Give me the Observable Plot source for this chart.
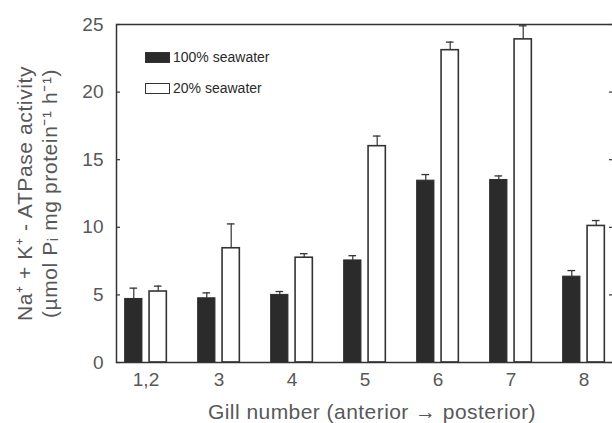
<!DOCTYPE html>
<html><head><meta charset="utf-8">
<script src="https://cdn.jsdelivr.net/npm/d3@7"></script>
<script src="https://cdn.jsdelivr.net/npm/@observablehq/plot@0.6"></script>
<style>
html,body{margin:0;padding:0;overflow:hidden;background:#fff;}
#wrap{position:relative;width:626px;height:423px;}
.legend{position:absolute;left:145px;top:52px;font:14px "Liberation Sans",Arial,sans-serif;color:#2a2a2a;}
.legend .row{display:flex;align-items:center;height:11px;line-height:11px;margin-bottom:20px;}
.legend .sw{width:25px;height:11px;box-sizing:border-box;border:1.3px solid #333;margin-right:3px;}
</style></head><body><div id="wrap"></div>
<script>
const groups = ["1,2", "3", "4", "5", "6", "7", "8"];
const sw100 = [4.7, 4.75, 5.0, 7.55, 13.45, 13.5, 6.35];
const sw100err = [0.8, 0.4, 0.25, 0.35, 0.45, 0.3, 0.45];
const sw20 = [5.25, 8.45, 7.75, 16.0, 23.1, 23.9, 10.1];
const sw20err = [0.4, 1.8, 0.3, 0.75, 0.6, 1.0, 0.4];
const yTicks = [0, 5, 10, 15, 20, 25];
const seriesNames = ["100% seawater", "20% seawater"];
const xTitle = "Gill number (anterior \u2192 posterior)";
const yTitle = "Na\u207A + K\u207A - ATPase activity\n(\u00B5mol P\u1D62 mg protein\u207B\u00B9 h\u207B\u00B9)";

const rows100 = groups.map((g, i) => ({group: g, value: sw100[i], err: sw100err[i]}));
const rows20 = groups.map((g, i) => ({group: g, value: sw20[i], err: sw20err[i]}));

const ink = "#333";
const txt = "#585858";

const plot = Plot.plot({
  width: 626, height: 423,
  marginLeft: 116, marginRight: 9, marginTop: 24, marginBottom: 61,
  style: {fontFamily: '"Liberation Sans", Arial, sans-serif', fontSize: "19px", background: "#fff", overflow: "visible"},
  x: {type: "band", domain: groups, range: [107.83, 621.17], padding: 0, label: null},
  y: {domain: [0, 25], label: null},
  marks: [
    Plot.barY(rows100, {x: "group", y: "value", fill: "#2b2b2b", stroke: "#2b2b2b", strokeWidth: 1, insetLeft: 15.67, insetRight: 40.07}),
    Plot.barY(rows20, {x: "group", y: "value", fill: "#fff", stroke: ink, strokeWidth: 1.6, insetLeft: 40.07, insetRight: 15.67}),
    Plot.ruleX(rows100, {x: "group", y1: "value", y2: d => d.value + d.err, dx: -12.2, stroke: ink, strokeWidth: 1.2}),
    Plot.tickY(rows100, {x: "group", y: d => d.value + d.err, insetLeft: 20.47, insetRight: 44.87, stroke: ink, strokeWidth: 1.3}),
    Plot.ruleX(rows20, {x: "group", y1: "value", y2: d => d.value + d.err, dx: 12.2, stroke: ink, strokeWidth: 1.2}),
    Plot.tickY(rows20, {x: "group", y: d => d.value + d.err, insetLeft: 44.87, insetRight: 20.47, stroke: ink, strokeWidth: 1.3}),
    Plot.frame({stroke: ink, strokeWidth: 1.5}),
    Plot.axisY(yTicks, {anchor: "left", tickSize: -4, fill: "none", stroke: ink, strokeWidth: 1.2}),
    Plot.axisY(yTicks, {anchor: "right", tickSize: -9, fill: "none", stroke: ink, strokeWidth: 1.2}),
    Plot.axisY(yTicks, {anchor: "left", tickSize: 0, tickPadding: 13, fill: txt, fontSize: 19}),
    Plot.axisX({anchor: "bottom", tickSize: 0, tickPadding: 9.5, fill: txt, fontSize: 19}),
    Plot.text([yTitle], {frameAnchor: "left", text: d => d, rotate: -90, dx: -80, lineHeight: 1.2, fontSize: 21, textAnchor: "middle", lineAnchor: "middle", fill: txt}),
    Plot.text([xTitle], {frameAnchor: "bottom", text: d => d, dx: 5, dy: 56, lineAnchor: "bottom", fontSize: 21, fill: txt})
  ]
});

// letter spacing for the axis titles
plot.querySelectorAll("text").forEach(t => {
  if (t.textContent.startsWith("Gill")) t.setAttribute("letter-spacing", "0.45");
  if (t.textContent.startsWith("Na") || t.textContent.startsWith("(")) t.setAttribute("letter-spacing", "0.6");
});

const wrap = document.getElementById("wrap");
wrap.appendChild(plot);
const legend = document.createElement("div");
legend.className = "legend";
const fills = ["#2b2b2b", "#fff"];
seriesNames.forEach((name, i) => {
  const row = document.createElement("div");
  row.className = "row";
  const sw = document.createElement("span");
  sw.className = "sw";
  sw.style.background = fills[i];
  row.appendChild(sw);
  const t = document.createElement("span");
  t.textContent = name;
  row.appendChild(t);
  legend.appendChild(row);
});
wrap.appendChild(legend);
</script>
</body></html>
